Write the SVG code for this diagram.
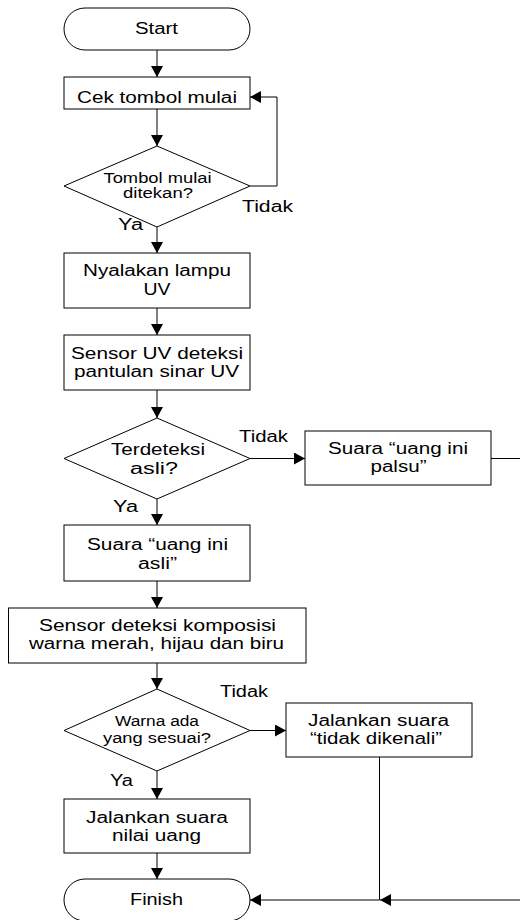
<svg xmlns="http://www.w3.org/2000/svg" width="520" height="920" viewBox="0 0 520 920">
<style>
.s{fill:#fff;stroke:#000;stroke-width:1}
.c{fill:none;stroke:#000;stroke-width:1}
text{font-family:"Liberation Sans",Arial,sans-serif;font-size:16px;fill:#000}
.m{text-anchor:middle}
.d{font-size:14px}
</style>
<defs>
<marker id="a" markerUnits="userSpaceOnUse" markerWidth="12" markerHeight="12" refX="11" refY="6" orient="auto">
<path d="M0,0 L11,6 L0,12 Z" fill="#000"/>
</marker>
</defs>
<rect width="520" height="920" fill="#fff"/>
<g id="connectors">
<path class="c" d="M157,50 V77" marker-end="url(#a)"/>
<path class="c" d="M157,109 V146" marker-end="url(#a)"/>
<path class="c" d="M250,186 H277 V97 H250" marker-end="url(#a)"/>
<path class="c" d="M157,227 V253" marker-end="url(#a)"/>
<path class="c" d="M157,308 V335" marker-end="url(#a)"/>
<path class="c" d="M157,390 V418" marker-end="url(#a)"/>
<path class="c" d="M250,458.5 H305" marker-end="url(#a)"/>
<path class="c" d="M157,499 V525" marker-end="url(#a)"/>
<path class="c" d="M157,581 V608" marker-end="url(#a)"/>
<path class="c" d="M157,663 V689" marker-end="url(#a)"/>
<path class="c" d="M250,730.5 H286" marker-end="url(#a)"/>
<path class="c" d="M157,771 V799" marker-end="url(#a)"/>
<path class="c" d="M157,853 V879" marker-end="url(#a)"/>
<path class="c" d="M491,458.5 H540 V900 H380" marker-end="url(#a)"/>
<path class="c" d="M379.5,757 V900 H250" marker-end="url(#a)"/>
<text x="242" y="211.5" textLength="51" lengthAdjust="spacingAndGlyphs">Tidak</text>
<text x="118" y="230" textLength="25" lengthAdjust="spacingAndGlyphs">Ya</text>
<text x="239" y="441.5" textLength="49" lengthAdjust="spacingAndGlyphs">Tidak</text>
<text x="113" y="511.5" textLength="25" lengthAdjust="spacingAndGlyphs">Ya</text>
<text x="220" y="696.5" textLength="48" lengthAdjust="spacingAndGlyphs">Tidak</text>
<text x="110" y="786" textLength="23" lengthAdjust="spacingAndGlyphs">Ya</text>
</g>
<g id="start">
<rect class="s" x="64" y="8" width="186" height="42" rx="21"/>
<text class="m" x="156.5" y="34" textLength="43" lengthAdjust="spacingAndGlyphs">Start</text>
</g>
<g id="cek">
<rect class="s" x="64" y="77" width="186" height="32"/>
<text class="m" x="157" y="103" textLength="160" lengthAdjust="spacingAndGlyphs">Cek tombol mulai</text>
</g>
<g id="d1">
<polygon class="s" points="157,146 250,186 157,227 64,186"/>
<text class="m d" x="157.5" y="182.5" textLength="108" lengthAdjust="spacingAndGlyphs">Tombol mulai</text>
<text class="m d" x="158" y="197.5" textLength="70" lengthAdjust="spacingAndGlyphs">ditekan?</text>
</g>
<g id="nyala">
<rect class="s" x="64" y="253" width="186" height="55"/>
<text class="m" x="157" y="276" textLength="148" lengthAdjust="spacingAndGlyphs">Nyalakan lampu</text>
<text class="m" x="157" y="294.5" textLength="27" lengthAdjust="spacingAndGlyphs">UV</text>
</g>
<g id="sensoruv">
<rect class="s" x="64" y="335" width="186" height="55"/>
<text class="m" x="157" y="358.5" textLength="172" lengthAdjust="spacingAndGlyphs">Sensor UV deteksi</text>
<text class="m" x="156.5" y="376.5" textLength="165" lengthAdjust="spacingAndGlyphs">pantulan sinar UV</text>
</g>
<g id="d2">
<polygon class="s" points="157,418 250,458.5 157,499 64,458.5"/>
<text class="m" x="158" y="455" textLength="94" lengthAdjust="spacingAndGlyphs">Terdeteksi</text>
<text class="m" x="154" y="474" textLength="48" lengthAdjust="spacingAndGlyphs">asli?</text>
</g>
<g id="palsu">
<rect class="s" x="305" y="431" width="186" height="54"/>
<text class="m" x="398" y="454" textLength="140" lengthAdjust="spacingAndGlyphs">Suara “uang ini</text>
<text class="m" x="398.5" y="471.5" textLength="56" lengthAdjust="spacingAndGlyphs">palsu”</text>
</g>
<g id="asli">
<rect class="s" x="64" y="525" width="186" height="56"/>
<text class="m" x="157.5" y="550" textLength="141" lengthAdjust="spacingAndGlyphs">Suara “uang ini</text>
<text class="m" x="157.5" y="568.5" textLength="39" lengthAdjust="spacingAndGlyphs">asli”</text>
</g>
<g id="sensorwarna">
<rect class="s" x="8.5" y="608" width="297.5" height="55"/>
<text class="m" x="157.5" y="631" textLength="237" lengthAdjust="spacingAndGlyphs">Sensor deteksi komposisi</text>
<text class="m" x="156.5" y="649" textLength="255" lengthAdjust="spacingAndGlyphs">warna merah, hijau dan biru</text>
</g>
<g id="d3">
<polygon class="s" points="157,689 250,730.5 157,771 64,730.5"/>
<text class="m d" x="157" y="725.5" textLength="84" lengthAdjust="spacingAndGlyphs">Warna ada</text>
<text class="m d" x="157" y="742.5" textLength="108" lengthAdjust="spacingAndGlyphs">yang sesuai?</text>
</g>
<g id="dikenali">
<rect class="s" x="286" y="703" width="186" height="54"/>
<text class="m" x="378.5" y="725.5" textLength="141" lengthAdjust="spacingAndGlyphs">Jalankan suara</text>
<text class="m" x="376" y="744" textLength="132" lengthAdjust="spacingAndGlyphs">“tidak dikenali”</text>
</g>
<g id="nilai">
<rect class="s" x="64" y="799" width="186" height="54"/>
<text class="m" x="157" y="822.5" textLength="142" lengthAdjust="spacingAndGlyphs">Jalankan suara</text>
<text class="m" x="156.5" y="841" textLength="89" lengthAdjust="spacingAndGlyphs">nilai uang</text>
</g>
<g id="finish">
<rect class="s" x="64" y="879" width="186" height="42" rx="21"/>
<text class="m" x="156.5" y="905" textLength="53" lengthAdjust="spacingAndGlyphs">Finish</text>
</g>
</svg>
